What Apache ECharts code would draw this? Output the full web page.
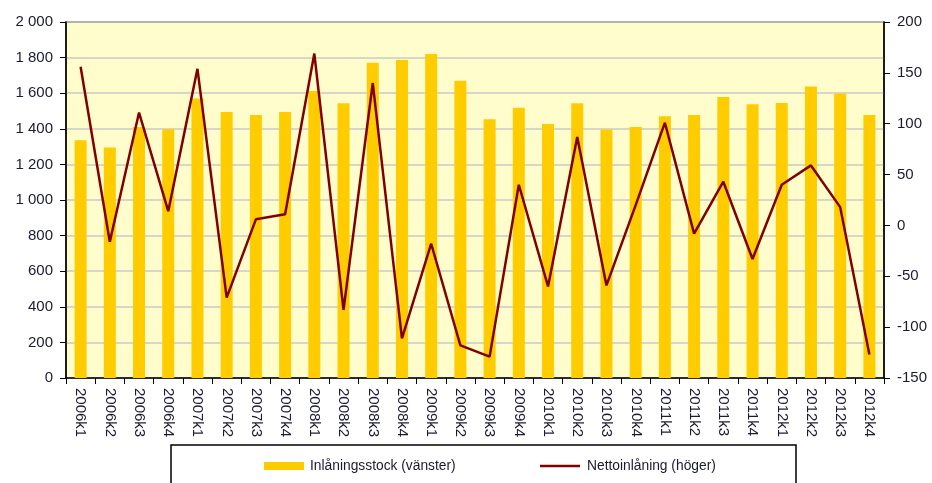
<!DOCTYPE html>
<html>
<head>
<meta charset="utf-8">
<script src="https://cdn.jsdelivr.net/npm/echarts@6/dist/echarts.min.js"></script>
<style>
html,body{margin:0;padding:0;background:#fff;}
#c{width:932px;height:483px;}
</style>
</head>
<body>
<div id="c"></div>
<script>
const categories = ['2006k1','2006k2','2006k3','2006k4','2007k1','2007k2','2007k3','2007k4',
  '2008k1','2008k2','2008k3','2008k4','2009k1','2009k2','2009k3','2009k4',
  '2010k1','2010k2','2010k3','2010k4','2011k1','2011k2','2011k3','2011k4',
  '2012k1','2012k2','2012k3','2012k4'];
const stockValues = [1335,1295,1410,1397,1570,1495,1478,1495,
  1612,1543,1771,1786,1820,1670,1453,1518,
  1427,1543,1396,1410,1470,1478,1579,1538,
  1545,1637,1598,1478];
const netValues = [156,-16,111,14,154,-71,6,11,
  169,-83,140,-111,-18,-118,-129,40,
  -60,87,-59,20,101,-8,43,-33,
  40,59,18,-127];
const leftTicks = {min:0, max:2000, interval:200};
const rightTicks = {min:-150, max:200, interval:50};
const barName = 'Inlåningsstock (vänster)';
const lineName = 'Nettoinlåning (höger)';

const txt = '#1a1a33';
const font = 'Liberation Sans, Arial, sans-serif';
const chart = echarts.init(document.getElementById('c'));
chart.setOption({
  animation:false,
  backgroundColor:'#ffffff',
  grid:{left:66,right:48,top:22,bottom:105,show:true,backgroundColor:'#FFFDCC',borderColor:'#404040',borderWidth:1.5},
  legend:[
    {left:264,top:459,padding:0,itemWidth:40,itemHeight:8,data:[{name:barName,icon:'rect'}],
     textStyle:{fontFamily:font,fontSize:13.8,color:txt,padding:[0,0,0,1]}},
    {left:540,top:459,padding:0,itemWidth:40,itemHeight:2.5,
     data:[{name:lineName,icon:'rect',itemStyle:{color:'#800000'}}],
     textStyle:{fontFamily:font,fontSize:13.8,color:txt,padding:[0,0,0,2]}}
  ],
  graphic:[{type:'rect',shape:{x:171,y:445,width:625,height:60},style:{fill:'none',stroke:'#000',lineWidth:1.5},silent:true}],
  xAxis:{type:'category',data:categories,boundaryGap:true,
    axisLine:{lineStyle:{color:'#000',width:1.5}},
    axisTick:{show:true,length:6,inside:false,lineStyle:{color:'#000'}},
    axisLabel:{rotate:-90,margin:10,fontFamily:font,fontSize:15,color:txt,interval:0}},
  yAxis:[
    {type:'value',min:leftTicks.min,max:leftTicks.max,interval:leftTicks.interval,position:'left',
     axisLine:{show:true,lineStyle:{color:'#000',width:1.5}},
     axisTick:{show:true,length:6,lineStyle:{color:'#000'}},
     splitLine:{show:true,lineStyle:{color:'#C8C8C8',width:1.5}},
     axisLabel:{fontFamily:font,fontSize:15,color:txt,margin:13,
       formatter:v=>String(v).replace(/\B(?=(\d{3})+(?!\d))/g,' ')}},
    {type:'value',min:rightTicks.min,max:rightTicks.max,interval:rightTicks.interval,position:'right',
     axisLine:{show:true,lineStyle:{color:'#000',width:1.5}},
     axisTick:{show:true,length:6,lineStyle:{color:'#000'}},
     splitLine:{show:false},
     axisLabel:{fontFamily:font,fontSize:15,color:txt,margin:13}}
  ],
  series:[
    {name:barName,type:'bar',yAxisIndex:0,data:stockValues,barWidth:12,
     itemStyle:{color:'#FFCC00'}},
    {name:lineName,type:'line',yAxisIndex:1,data:netValues,symbol:'none',
     lineStyle:{color:'#800000',width:2.5},itemStyle:{color:'#800000'}}
  ]
});
</script>
</body>
</html>
